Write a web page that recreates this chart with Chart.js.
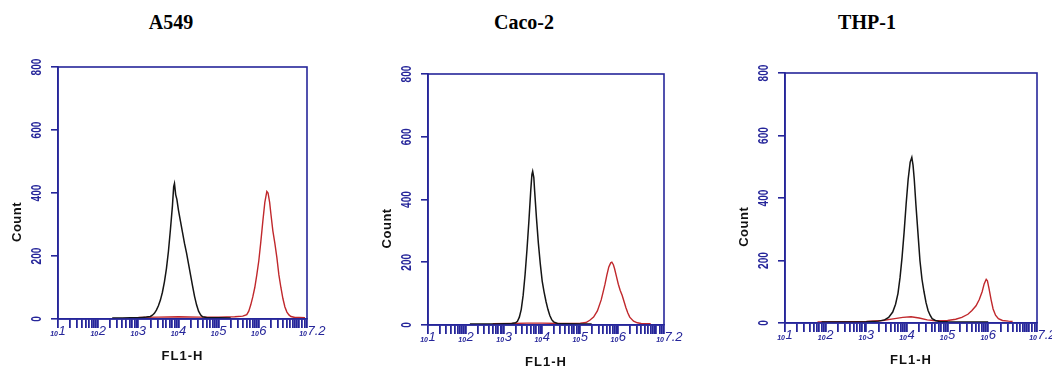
<!DOCTYPE html>
<html>
<head>
<meta charset="utf-8">
<script src="https://cdn.jsdelivr.net/npm/chart.js@4/dist/chart.umd.min.js"></script>
<style>
  body { margin: 0; background: #fff; width: 1052px; height: 367px; position: relative; overflow: hidden; }
  canvas { position: absolute; top: 0; }
  .title { position: absolute; top: 11px; font: bold 20px "Liberation Serif", "Times New Roman", serif; transform: translateX(-50%); color: #000; }
</style>
</head>
<body>
<div class="title" style="left:171px">A549</div>
<div class="title" style="left:524px">Caco-2</div>
<div class="title" style="left:867px">THP-1</div>
<canvas id="c0" width="350" height="367" style="left:0"></canvas>
<canvas id="c1" width="350" height="367" style="left:350px"></canvas>
<canvas id="c2" width="352" height="367" style="left:700px"></canvas>
<script>
// x is log10(FL1-H), y is event count
const panelTitles = ['A549', 'Caco-2', 'THP-1'];
const xExponents = [1, 2, 3, 4, 5, 6, 7.2];
const xTickLabels = ['1', '2', '3', '4', '5', '6', '7.2'];
const yTicks = [0, 200, 400, 600, 800];
const yTickLabels = ['0', '200', '400', '600', '800'];

// A549
const a549Control = [[2.35,3],[2.6,3],[2.8,4],[3.0,4],[3.1,5],[3.2,6],[3.3,8],[3.35,12],[3.4,18],[3.45,28],[3.5,42],[3.55,60],[3.6,85],[3.65,118],[3.7,160],[3.75,215],[3.8,285],[3.85,360],[3.88,420],[3.9,430],[3.93,395],[3.96,380],[4.0,345],[4.05,310],[4.1,275],[4.15,240],[4.2,210],[4.25,175],[4.3,140],[4.35,105],[4.4,72],[4.45,45],[4.5,25],[4.55,13],[4.6,7],[4.7,5],[4.8,4],[5.0,4],[5.3,3]];
const a549Stained = [[3.0,5],[3.5,6],[4.0,7],[4.5,6],[5.0,6],[5.4,7],[5.6,9],[5.7,14],[5.75,25],[5.8,45],[5.85,70],[5.9,100],[5.95,140],[6.0,185],[6.05,245],[6.1,310],[6.15,370],[6.2,405],[6.23,400],[6.27,370],[6.3,335],[6.35,280],[6.4,240],[6.45,195],[6.5,140],[6.55,100],[6.6,65],[6.65,38],[6.7,22],[6.75,13],[6.8,8],[6.9,5],[7.0,5],[7.15,4]];

// Caco-2
const cacoControl = [[2.1,3],[2.5,3],[2.8,3],[3.0,4],[3.2,5],[3.3,7],[3.35,12],[3.4,25],[3.45,50],[3.5,95],[3.55,160],[3.6,240],[3.65,330],[3.7,430],[3.73,480],[3.75,490],[3.78,470],[3.8,430],[3.85,340],[3.9,260],[3.95,195],[4.0,140],[4.05,105],[4.1,75],[4.15,50],[4.2,30],[4.25,17],[4.3,10],[4.4,5],[4.6,4],[5.0,3],[5.3,3]];
const cacoStained = [[2.7,4],[3.2,5],[3.6,6],[4.0,6],[4.5,5],[5.0,6],[5.15,8],[5.25,15],[5.35,25],[5.45,45],[5.55,80],[5.6,105],[5.65,130],[5.7,160],[5.75,185],[5.8,198],[5.83,200],[5.87,192],[5.9,180],[5.95,155],[6.0,130],[6.05,110],[6.1,95],[6.15,75],[6.2,55],[6.25,38],[6.3,25],[6.4,12],[6.5,7],[6.6,5],[6.85,4]];

// THP-1
const thpControl = [[1.9,3],[2.5,3],[3.0,4],[3.3,6],[3.45,10],[3.55,18],[3.65,35],[3.72,60],[3.78,95],[3.83,145],[3.88,210],[3.93,290],[3.98,380],[4.03,460],[4.08,515],[4.12,530],[4.15,505],[4.18,460],[4.22,380],[4.27,290],[4.32,200],[4.37,140],[4.42,100],[4.47,65],[4.52,40],[4.57,25],[4.62,14],[4.7,8],[4.8,5],[5.0,4],[5.5,3],[6.0,3]];
const thpStained = [[1.8,3],[2.5,4],[3.0,5],[3.4,8],[3.7,14],[3.9,18],[4.1,20],[4.3,16],[4.5,10],[4.7,7],[5.0,8],[5.2,12],[5.35,18],[5.5,28],[5.6,40],[5.7,55],[5.78,75],[5.85,100],[5.9,125],[5.95,140],[5.98,135],[6.02,110],[6.07,75],[6.12,45],[6.18,25],[6.25,14],[6.35,8],[6.5,6],[6.6,5]];

const controls = [a549Control, cacoControl, thpControl];
const stained = [a549Stained, cacoStained, thpStained];

// plot box of each panel inside its canvas: left, right, top, bottom
const boxes = [
  { l: 58, r: 307, t: 67, b: 319, w: 350 },
  { l: 78, r: 314, t: 74, b: 325, w: 350 },
  { l: 85, r: 337, t: 73, b: 323, w: 352 }
];

const BLUE = '#26269a';

// log-scale minor tick positions
const xTickPos = [];
for (let k = 1; k < 7; k++) {
  for (let m = 1; m < 10; m++) xTickPos.push(k + Math.log10(m));
}
xTickPos.push(7, 7 + Math.log10(1.2), 7 + Math.log10(1.4), 7.2);

const frame = {
  id: 'frame',
  afterDraw(chart) {
    const { ctx, chartArea: a, scales: { x, y } } = chart;
    ctx.save();
    ctx.strokeStyle = BLUE;
    ctx.lineWidth = 1.6;
    ctx.strokeRect(a.left, a.top, a.right - a.left, a.bottom - a.top);

    // x tick labels: small "10" with a big exponent
    ctx.fillStyle = BLUE;
    xExponents.forEach((e, i) => {
      const px = x.getPixelForValue(e);
      ctx.textAlign = 'right';
      ctx.textBaseline = 'alphabetic';
      ctx.font = 'italic bold 7px "Liberation Sans", Arial, sans-serif';
      ctx.fillText('10', px, a.bottom + 17);
      ctx.textAlign = 'left';
      ctx.font = 'italic 13px "Liberation Sans", Arial, sans-serif';
      ctx.fillText(xTickLabels[i], px + 0.5, a.bottom + 16);
    });

    // y tick labels, reading upwards
    yTicks.forEach((v, i) => {
      const py = y.getPixelForValue(v);
      ctx.save();
      ctx.translate(a.left - 21, py);
      ctx.rotate(-Math.PI / 2);
      ctx.scale(0.72, 1);
      ctx.textAlign = 'center';
      ctx.textBaseline = 'middle';
      ctx.font = 'bold 14px "Liberation Sans", Arial, sans-serif';
      ctx.fillText(yTickLabels[i], 0, 0);
      ctx.restore();
    });

    // axis titles
    ctx.fillStyle = '#111';
    ctx.font = 'bold 13px "Liberation Sans", Arial, sans-serif';
    ctx.textAlign = 'center';
    ctx.textBaseline = 'middle';
    ctx.letterSpacing = '1px';
    ctx.fillText('FL1-H', (a.left + a.right) / 2, a.bottom + 37);
    ctx.save();
    ctx.translate(a.left - 41, a.top + 0.615 * (a.bottom - a.top));
    ctx.rotate(-Math.PI / 2);
    ctx.letterSpacing = '0.5px';
    ctx.fillText('Count', 0, 0);
    ctx.restore();
    ctx.restore();
  }
};

panelTitles.forEach((name, i) => {
  const bx = boxes[i];
  new Chart(document.getElementById('c' + i), {
    type: 'line',
    data: {
      datasets: [
        { label: name + ' control', data: controls[i], borderColor: '#151515', borderWidth: 1.5, pointRadius: 0, tension: 0 },
        { label: name + ' stained', data: stained[i], borderColor: '#c0282c', borderWidth: 1.4, pointRadius: 0, tension: 0 }
      ]
    },
    options: {
      responsive: false,
      animation: false,
      events: [],
      layout: { padding: { left: bx.l, right: bx.w - bx.r, top: bx.t, bottom: 367 - bx.b } },
      plugins: { legend: { display: false }, tooltip: { enabled: false } },
      scales: {
        x: {
          type: 'linear', min: 1, max: 7.2,
          afterBuildTicks: s => { s.ticks = xTickPos.map(v => ({ value: v })); },
          afterFit: s => { s.height = 0; },
          ticks: { display: false },
          grid: { drawOnChartArea: false, drawTicks: true, tickLength: 9, color: BLUE, lineWidth: 1.8 },
          border: { color: BLUE, width: 1.6 }
        },
        y: {
          min: 0, max: 800,
          afterBuildTicks: s => { s.ticks = yTicks.map(v => ({ value: v })); },
          afterFit: s => { s.width = 0; },
          ticks: { display: false },
          grid: { drawOnChartArea: false, drawTicks: true, tickLength: 7, color: BLUE, lineWidth: 1.6 },
          border: { color: BLUE, width: 1.6 }
        }
      }
    },
    plugins: [frame]
  });
});
</script>
</body>
</html>
